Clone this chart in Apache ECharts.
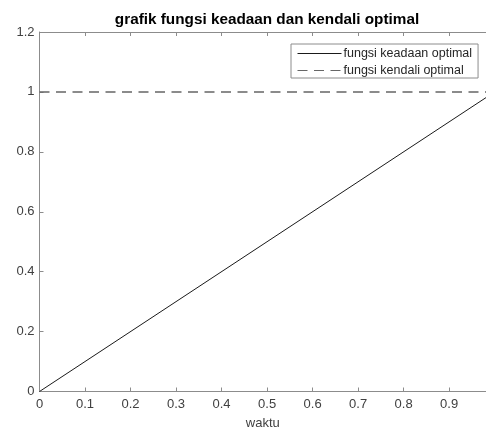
<!DOCTYPE html>
<html>
<head>
<meta charset="utf-8">
<script src="https://cdn.jsdelivr.net/npm/echarts@6/dist/echarts.min.js"></script>
<style>
  html, body { margin: 0; padding: 0; background: #fff; }
  #main { width: 486px; height: 430px; }
</style>
</head>
<body>
<div id="main"></div>
<script>
// data
const waktu = [0, 0.981];
const keadaan = [0, 0.981];
const kendali = [1, 1];
const xMax = 0.981;

const axisGray = '#8c8c8c';
const textGray = '#404040';

const chart = echarts.init(document.getElementById('main'));

chart.setOption({
  animation: false,
  title: {
    text: 'grafik fungsi keadaan dan kendali optimal',
    left: 262,
    textAlign: 'center',
    top: 7,
    textStyle: { fontFamily: 'Liberation Sans', fontSize: 15.3, fontWeight: 'bold', color: '#000' }
  },
  legend: {
    left: 291,
    top: 44,
    orient: 'vertical',
    itemWidth: 44,
    itemHeight: 11,
    itemGap: 4,
    padding: [3, 6, 1, 6],
    borderColor: '#8c8c8c',
    borderWidth: 1,
    backgroundColor: '#fff',
    itemStyle: { color: 'transparent', opacity: 0, borderWidth: 0 },
    lineStyle: { width: 1 },
    textStyle: { fontFamily: 'Liberation Sans', fontSize: 12.5, color: '#262626', padding: [0, 0, 0, -3] },
    data: ['fungsi keadaan optimal', 'fungsi kendali optimal']
  },
  grid: { left: 39.5, right: 0, top: 32, bottom: 38.5, outerBoundsMode: 'none', containLabel: false },
  xAxis: [{
    type: 'value',
    min: 0,
    max: xMax,
    interval: 0.1,
    name: 'waktu',
    nameLocation: 'middle',
    nameGap: 25,
    nameTextStyle: { fontFamily: 'Liberation Sans', fontSize: 13, color: textGray },
    axisLine: { show: true, lineStyle: { color: axisGray, width: 1 } },
    axisTick: { show: true, inside: true, length: 4, lineStyle: { color: axisGray } },
    axisLabel: { showMaxLabel: false, margin: 6, fontFamily: 'Liberation Sans', fontSize: 13, color: textGray },
    splitLine: { show: false }
  }, {
    type: 'value',
    position: 'top',
    min: 0,
    max: xMax,
    interval: 0.1,
    axisLine: { show: true, lineStyle: { color: axisGray, width: 1 } },
    axisTick: { show: true, inside: true, length: 4, lineStyle: { color: axisGray } },
    axisLabel: { show: false },
    splitLine: { show: false }
  }],
  yAxis: {
    type: 'value',
    min: 0,
    max: 1.2,
    interval: 0.2,
    axisLine: { show: true, lineStyle: { color: axisGray, width: 1 } },
    axisTick: { show: true, inside: true, length: 4, lineStyle: { color: axisGray } },
    axisLabel: { margin: 5, fontFamily: 'Liberation Sans', fontSize: 13, color: textGray },
    splitLine: { show: false }
  },
  series: [{
    name: 'fungsi keadaan optimal',
    type: 'line',
    data: waktu.map((x, i) => [x, keadaan[i]]),
    symbol: 'none',
    lineStyle: { color: '#1a1a1a', width: 1 },
    itemStyle: { color: '#1a1a1a' }
  }, {
    name: 'fungsi kendali optimal',
    type: 'line',
    data: waktu.map((x, i) => [x, kendali[i]]),
    symbol: 'none',
    lineStyle: { color: '#666', width: 1.5, type: [10, 6.5] },
    itemStyle: { color: '#666' }
  }]
});
</script>
</body>
</html>
